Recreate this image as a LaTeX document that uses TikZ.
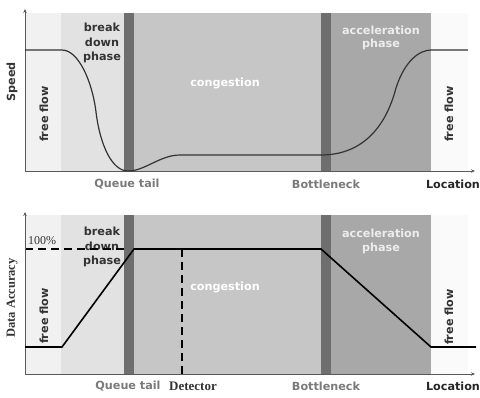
\documentclass[tikz,border=0pt]{standalone}
\usepackage{fontspec}
\setmainfont{Liberation Serif}
\newfontfamily\dvs{DejaVu Sans}
\usetikzlibrary{arrows.meta}
\definecolor{ffl}{HTML}{F1F1F1}
\definecolor{bdc}{HTML}{E2E2E2}
\definecolor{dbar}{HTML}{6E6E6E}
\definecolor{cong}{HTML}{C6C6C6}
\definecolor{accc}{HTML}{A8A8A8}
\definecolor{ffr}{HTML}{FAFAFA}
\definecolor{txtd}{HTML}{333333}
\definecolor{txtg}{HTML}{7A7A7A}
\tikzset{
  sans/.style={font=\dvs\bfseries\fontsize{11.2}{13}\selectfont, inner sep=0pt},
  darklbl/.style={sans, text=txtd},
  whitelbl/.style={sans, text=white},
  greylbl/.style={sans, text=txtg},
  serifbold/.style={font=\bfseries\fontsize{12.5}{14}\selectfont, inner sep=0pt, text=txtd},
  serifreg/.style={font=\fontsize{12}{14}\selectfont, inner sep=0pt, text=txtd},
  axisline/.style={draw=black!65, line width=0.9pt, -{Stealth[length=4pt,width=3.5pt]}},
  speedcurve/.style={draw=txtd, line width=1.2pt},
  acccurve/.style={draw=black, line width=1.6pt},
  dashline/.style={draw=black, line width=1.5pt, dash pattern=on 8pt off 5pt},
}
\begin{document}
\begin{tikzpicture}[x=1pt,y=-1pt]
\useasboundingbox (0,0) rectangle (480,397);
% ---------- top panel ----------
\fill[ffl]  (25,13) rectangle (61,171);
\fill[bdc]  (61,13) rectangle (124,171);
\fill[dbar] (124,13) rectangle (134,171);
\fill[cong] (134,13) rectangle (321,171);
\fill[dbar] (321,13) rectangle (331,171);
\fill[accc] (331,13) rectangle (431,171);
\fill[ffr]  (431,13) rectangle (468,171);
\draw[axisline] (25,171) -- (25,9);
\draw[axisline] (25,171) -- (475,171);
\draw[speedcurve] (25,50) -- (62,50) .. controls (78,50) and (92,80) .. (96,112)
  .. controls (100,145) and (112,171) .. (128,171)
  .. controls (145,171) and (160,155) .. (180,155) -- (321,155)
  .. controls (360,155) and (385,130) .. (396,88)
  .. controls (405,60) and (420,50) .. (431,50) -- (468,50);
\node[darklbl] (bd1a) at (102,27) {break};
\node[darklbl] (bd1b) at (102,42) {down};
\node[darklbl] (bd1c) at (102,57) {phase};
\node[whitelbl] (cg1) at (225,83) {congestion};
\node[whitelbl, text=white!93!black] (ac1a) at (381,30) {acceleration};
\node[whitelbl, text=white!93!black] (ac1b) at (381,44) {phase};
\node[darklbl, rotate=90] (ff1l) at (44,114) {free flow};
\node[darklbl, rotate=90] (ff1r) at (449,114) {free flow};
\node[darklbl, rotate=90] (spd) at (12,82) {Speed};
\node[greylbl] (qt1) at (127,184) {Queue tail};
\node[greylbl] (bn1) at (326,184) {Bottleneck};
\node[darklbl, text=black!85] (loc1) at (453,184) {Location};
% ---------- bottom panel ----------
\fill[ffl]  (25,215) rectangle (61,374);
\fill[bdc]  (61,215) rectangle (124,374);
\fill[dbar] (124,215) rectangle (134,374);
\fill[cong] (134,215) rectangle (321,374);
\fill[dbar] (321,215) rectangle (331,374);
\fill[accc] (331,215) rectangle (431,374);
\fill[ffr]  (431,215) rectangle (468,374);
\node[darklbl] (bd2a) at (102,231) {break};
\node[darklbl] (bd2b) at (102,246) {down};
\node[darklbl] (bd2c) at (102,261) {phase};
\node[whitelbl] (cg2) at (225,287) {congestion};
\node[whitelbl, text=white!93!black] (ac2a) at (381,233) {acceleration};
\node[whitelbl, text=white!93!black] (ac2b) at (381,248) {phase};
\node[darklbl, rotate=90] (ff2l) at (44,316) {free flow};
\node[darklbl, rotate=90] (ff2r) at (449,317) {free flow};
\draw[dashline] (25,249) -- (124,249);
\draw[dashline] (182,249) -- (182,374);
\draw[axisline] (25,374) -- (25,212);
\draw[axisline] (25,374) -- (475,374);
\draw[acccurve] (25,347) -- (62,347) -- (134,249) -- (321,249) -- (431,347) -- (476,347);
\node[serifreg] (pct) at (42,241) {100\%};
\node[serifbold, rotate=90] (da) at (12,298) {Data Accuracy};
\node[greylbl] (qt2) at (128,386) {Queue tail};
\node[serifbold, font=\bfseries\fontsize{13}{15}\selectfont] (det) at (193,386) {Detector};
\node[greylbl] (bn2) at (326,386) {Bottleneck};
\node[darklbl, text=black!85] (loc2) at (453,386) {Location};
\end{tikzpicture}
\end{document}
